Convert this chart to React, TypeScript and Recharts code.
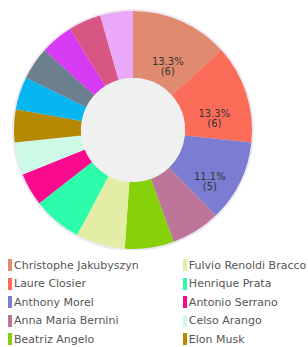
import React from 'react';
import { PieChart, Pie, Cell } from 'recharts';

const names = [
  'Christophe Jakubyszyn',
  'Laure Closier',
  'Anthony Morel',
  'Anna Maria Bernini',
  'Beatriz Angelo',
  'Fulvio Renoldi Bracco',
  'Henrique Prata',
  'Antonio Serrano',
  'Celso Arango',
  'Elon Musk',
  'Other 1',
  'Other 2',
  'Other 3',
  'Other 4',
  'Other 5',
];

const counts = [6, 6, 5, 3, 3, 3, 3, 2, 2, 2, 2, 2, 2, 2, 2];

const colors = [
  '#E08B6F',
  '#FB6D58',
  '#7B7DD2',
  '#BD7599',
  '#86D10A',
  '#E4EDA5',
  '#2CFDAB',
  '#FA0A8C',
  '#CCFAE6',
  '#B68903',
  '#06B6F0',
  '#6B7F8E',
  '#D63AF2',
  '#D85684',
  '#EBA8F8',
];

// only the first ten names show up in the legend
const legendCount = 10;

const total = counts.reduce((a, b) => a + b, 0);
const data = names.map((name, i) => ({ name, value: counts[i] }));

const RAD = Math.PI / 180;

const renderLabel = (props: any) => {
  const { cx, cy, midAngle, innerRadius, outerRadius, value } = props;
  const share = value / total;
  if (share < 0.1) return null;
  const r = (innerRadius + outerRadius) / 2;
  const x = cx + r * Math.cos(-midAngle * RAD);
  const y = cy + r * Math.sin(-midAngle * RAD) + 17;
  return (
    <text x={x} y={y} fill="#333" fontSize={10} textAnchor="middle" fontFamily="DejaVu Sans">
      <tspan x={x} dy={-4}>{(share * 100).toFixed(1)}%</tspan>
      <tspan x={x} dy={10}>({value})</tspan>
    </text>
  );
};

export default function App() {
  const legendItems = data.slice(0, legendCount);
  const half = Math.ceil(legendItems.length / 2);
  const columns = [legendItems.slice(0, half), legendItems.slice(half)];

  return (
    <div
      style={{
        position: 'absolute',
        left: 0,
        top: 0,
        width: 308,
        height: 347,
        background: '#fff',
        fontFamily: 'DejaVu Sans',
      }}
    >
      <PieChart width={308} height={250}>
        <Pie
          data={[{ name: 'rim', value: 1 }]}
          dataKey="value"
          cx={128}
          cy={125}
          innerRadius={0}
          outerRadius={121}
          fill="#EEE8F2"
          stroke="none"
          isAnimationActive={false}
        />
        <Pie
          data={data}
          dataKey="value"
          nameKey="name"
          cx={128}
          cy={125}
          innerRadius={52}
          outerRadius={119}
          startAngle={90}
          endAngle={-270}
          stroke="none"
          label={renderLabel}
          labelLine={false}
          isAnimationActive={false}
        >
          {data.map((d, i) => (
            <Cell key={d.name} fill={colors[i]} />
          ))}
        </Pie>
        <Pie
          data={[{ name: 'hole', value: 1 }]}
          dataKey="value"
          cx={128}
          cy={125}
          innerRadius={0}
          outerRadius={52}
          fill="#F0F0F0"
          stroke="none"
          isAnimationActive={false}
        />
      </PieChart>
      <div style={{ display: 'flex', marginTop: 6 }}>
        {columns.map((col, c) => (
          <div key={c} style={{ width: c === 0 ? 176 : 132, paddingLeft: 8 }}>
            {col.map((d) => {
              const i = data.indexOf(d);
              return (
                <div
                  key={d.name}
                  style={{
                    display: 'flex',
                    alignItems: 'center',
                    height: 18.5,
                    fontSize: 11,
                    color: '#555',
                    whiteSpace: 'nowrap',
                  }}
                >
                  <span
                    style={{
                      display: 'inline-block',
                      width: 4,
                      height: 12,
                      background: colors[i],
                      marginRight: 2,
                    }}
                  />
                  {d.name}
                </div>
              );
            })}
          </div>
        ))}
      </div>
    </div>
  );
}
